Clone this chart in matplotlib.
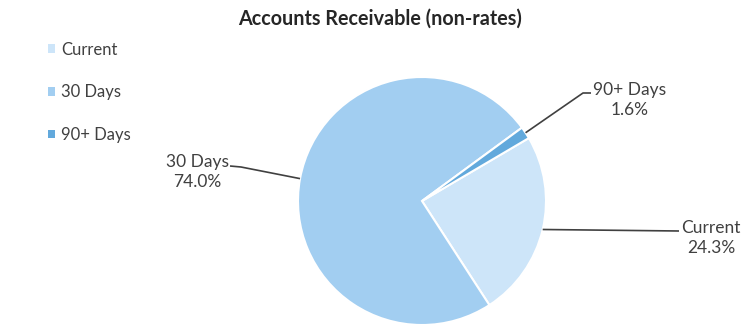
import numpy as np
import matplotlib
matplotlib.use("Agg")
import matplotlib.pyplot as plt
from matplotlib.patches import Patch

plt.rcParams['font.family'] = ['Lato', 'DejaVu Sans']

# Data
categories = ["Current", "30 Days", "90+ Days"]
shares = [24.3, 74.0, 1.6]
colors = ["#cde5f9", "#a2cef1", "#62a9dc"]
title = "Accounts Receivable (non-rates)"

W, H = 745, 327
fig = plt.figure(figsize=(W / 100, H / 100), dpi=100)
ax = fig.add_axes([0, 0, 1, 1])
ax.set_xlim(0, W)
ax.set_ylim(0, H)
ax.set_aspect('equal')
ax.axis('off')

cx, cy, r = 422, H - 201, 124
wedges, _ = ax.pie(shares, colors=colors, startangle=30.5, counterclock=False,
                   center=(cx, cy), radius=r,
                   wedgeprops=dict(edgecolor="white", linewidth=1.5))
ax.set_xlim(0, W)
ax.set_ylim(0, H)

# Data labels with leader lines from the middle of each slice edge
label_pos = {
    "Current": (711, H - 238),
    "30 Days": (197, H - 172),
    "90+ Days": (630, H - 100),
}
elbow = {
    "Current": [(679, H - 231)],
    "30 Days": [(241, H - 167), (230, H - 166)],
    "90+ Days": [(583, H - 93), (591, H - 93)],
}
for w, cat, val in zip(wedges, categories, shares):
    mid = np.deg2rad((w.theta1 + w.theta2) / 2)
    ex, ey = cx + r * np.cos(mid), cy + r * np.sin(mid)
    pts = [(ex, ey)] + elbow[cat]
    xs, ys = zip(*pts)
    ax.plot(xs, ys, color="#404040", lw=1.2, solid_capstyle="butt")
    tx, ty = label_pos[cat]
    ax.text(tx, ty, f"{cat}\n{val:.1f}%", ha="center", va="center",
            fontsize=12.5, color="#404040", linespacing=1.3)

ax.text(380, H - 19, title, ha="center", va="center", fontsize=14.2,
        fontweight="bold", color="#262626")

handles = [Patch(facecolor=c, edgecolor="none") for c in colors]
leg = fig.legend(handles, categories, loc="upper left", bbox_to_anchor=(0.053, 0.898),
                 frameon=False, fontsize=12, handlelength=0.42, handleheight=0.42,
                 handletextpad=0.4, labelspacing=1.6, borderpad=0)
for t in leg.get_texts():
    t.set_color("#404040")

fig.savefig("out.png", dpi=100)
